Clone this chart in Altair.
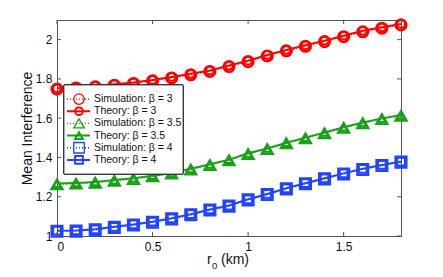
import altair as alt
import pandas as pd

r0 = [0.0, 0.1, 0.2, 0.3, 0.4, 0.5, 0.6, 0.7, 0.8, 0.9, 1.0, 1.1, 1.2, 1.3, 1.4, 1.5, 1.6, 1.7, 1.8]

theory_b3 = [1.752, 1.758, 1.765, 1.773, 1.782, 1.795, 1.810, 1.826, 1.843, 1.868, 1.893, 1.922, 1.948, 1.971, 1.995, 2.020, 2.045, 2.063, 2.080]
sim_b3 = [1.748, 1.754, 1.760, 1.768, 1.777, 1.790, 1.805, 1.821, 1.838, 1.863, 1.888, 1.917, 1.943, 1.966, 1.990, 2.015, 2.040, 2.058, 2.075]

theory_b35 = [1.267, 1.270, 1.275, 1.285, 1.294, 1.307, 1.321, 1.342, 1.365, 1.389, 1.421, 1.446, 1.475, 1.501, 1.527, 1.554, 1.578, 1.599, 1.616]
sim_b35 = [1.263, 1.266, 1.271, 1.281, 1.290, 1.303, 1.317, 1.338, 1.361, 1.385, 1.417, 1.442, 1.471, 1.497, 1.523, 1.550, 1.574, 1.595, 1.612]

theory_b4 = [1.027, 1.028, 1.034, 1.047, 1.059, 1.073, 1.090, 1.111, 1.135, 1.155, 1.187, 1.214, 1.243, 1.269, 1.294, 1.319, 1.342, 1.362, 1.379]
sim_b4 = [1.024, 1.025, 1.031, 1.044, 1.056, 1.070, 1.087, 1.108, 1.132, 1.152, 1.184, 1.211, 1.240, 1.266, 1.291, 1.316, 1.339, 1.359, 1.376]

betas = ["3", "3.5", "4"]
kinds = ["Simulation", "Theory"]
colors = ["#ff0000", "#1aa01a", "#2244ff"]
shapes = ["circle", "triangle-up", "square"]
legend_labels = ["Simulation: β = 3", "Theory: β = 3", "Simulation: β = 3.5",
                 "Theory: β = 3.5", "Simulation: β = 4", "Theory: β = 4"]

x_ticks = [0, 0.5, 1, 1.5]
y_ticks = [1, 1.2, 1.4, 1.6, 1.8, 2]
x_title_parts = ["r", "0", "(km)"]

series = {
    ("3", "Theory"): theory_b3, ("3", "Simulation"): sim_b3,
    ("3.5", "Theory"): theory_b35, ("3.5", "Simulation"): sim_b35,
    ("4", "Theory"): theory_b4, ("4", "Simulation"): sim_b4,
}
rows = []
for (b, k), vals in series.items():
    for xv, yv in zip(r0, vals):
        rows.append({"beta": b, "kind": k, "r0": xv, "val": yv})
df = pd.DataFrame(rows)

leg_rows = []
for b in betas:
    for k in kinds:
        leg_rows.append({"beta": b, "kind": k, "label": f"{k}: β = {b}"})
leg = pd.DataFrame(leg_rows)

W, H = 344, 216
FONT = "Liberation Sans"
INK = "#111111"

xscale = alt.Scale(domain=[0, 1.8], nice=False, zero=False)
yscale = alt.Scale(domain=[1, 2.1], nice=False, zero=False)
cscale = alt.Scale(domain=betas, range=colors)
sscale = alt.Scale(domain=betas, range=shapes)

xenc = alt.X("r0:Q", scale=xscale, axis=alt.Axis(
    title=None, values=x_ticks, ticks=False, tickSize=0, grid=False,
    labelPadding=5, format="~g"))
yenc = alt.Y("val:Q", scale=yscale, axis=alt.Axis(
    title="Mean Interference", values=y_ticks, ticks=False, tickSize=0, grid=False,
    labelPadding=5, titleX=-30, titleY=H / 2, titleBaseline="middle", format="~g"))

base = alt.Chart(df).encode(
    x=xenc, y=yenc,
    color=alt.Color("beta:N", scale=cscale, legend=None),
)

theory_line = base.transform_filter(alt.datum.kind == "Theory").mark_line(strokeWidth=2).encode(detail="beta:N")
sim_line = base.transform_filter(alt.datum.kind == "Simulation").mark_line(strokeWidth=1.3, strokeDash=[1, 2]).encode(detail="beta:N")
sim_pts = base.transform_filter(alt.datum.kind == "Simulation").mark_point(filled=False, strokeWidth=2.6, size=110, opacity=1).encode(
    shape=alt.Shape("beta:N", scale=sscale, legend=None))
th_pts = base.transform_filter(alt.datum.kind == "Theory").mark_point(filled=False, strokeWidth=2, size=60, opacity=1).encode(
    shape=alt.Shape("beta:N", scale=sscale, legend=None))

xt = pd.DataFrame({"t": x_ticks})
yt = pd.DataFrame({"t": y_ticks})
tick_color = "#555555"
xt_bottom = alt.Chart(xt).mark_rule(color=tick_color, strokeWidth=1).encode(
    x=alt.X("t:Q", scale=xscale), y=alt.value(H), y2=alt.value(H - 4))
xt_top = alt.Chart(xt).mark_rule(color=tick_color, strokeWidth=1).encode(
    x=alt.X("t:Q", scale=xscale), y=alt.value(0), y2=alt.value(4))
yt_left = alt.Chart(yt).mark_rule(color=tick_color, strokeWidth=1).encode(
    y=alt.Y("t:Q", scale=yscale), x=alt.value(0), x2=alt.value(4))
yt_right = alt.Chart(yt).mark_rule(color=tick_color, strokeWidth=1).encode(
    y=alt.Y("t:Q", scale=yscale), x=alt.value(W), x2=alt.value(W - 4))

# x-axis title with real subscript
tdf = pd.DataFrame({"part": x_title_parts})
t_r = alt.Chart(tdf).transform_filter(alt.datum.part == "r").mark_text(
    align="left", baseline="alphabetic", font=FONT, fontSize=14, color=INK).encode(
    x=alt.value(150), y=alt.value(H + 28), text="part:N")
t_0 = alt.Chart(tdf).transform_filter(alt.datum.part == "0").mark_text(
    align="left", baseline="alphabetic", font=FONT, fontSize=9.5, color=INK).encode(
    x=alt.value(155), y=alt.value(H + 32.5), text="part:N")
t_km = alt.Chart(tdf).transform_filter(alt.datum.part == "(km)").mark_text(
    align="left", baseline="alphabetic", font=FONT, fontSize=14, color=INK).encode(
    x=alt.value(164), y=alt.value(H + 28), text="part:N")

plot_group = alt.layer(xt_bottom, xt_top, yt_left, yt_right,
                       sim_line, theory_line, sim_pts, th_pts, t_r, t_0, t_km)

# legend
lyscale = alt.Scale(domain=legend_labels, range=[73, 146])
ly = alt.Y("label:N", scale=lyscale, axis=None, sort=legend_labels)
lbase = alt.Chart(leg).encode(
    y=ly,
    color=alt.Color("beta:N", scale=cscale, legend=None),
)
leg_box = alt.Chart(leg).mark_rect(fill="white", stroke="#333333", strokeWidth=0.8).encode(
    x=alt.value(7), x2=alt.value(126), y=alt.value(65), y2=alt.value(154))
leg_rule = lbase.mark_rule().encode(
    x=alt.value(10), x2=alt.value(33),
    strokeDash=alt.StrokeDash("kind:N", scale=alt.Scale(domain=kinds, range=[[1, 2], [1, 0]]), legend=None),
    strokeWidth=alt.StrokeWidth("kind:N", scale=alt.Scale(domain=kinds, range=[1.3, 2]), legend=None),
)
leg_pt = lbase.mark_point(filled=False, opacity=1).encode(
    x=alt.value(22),
    shape=alt.Shape("beta:N", scale=sscale, legend=None),
    size=alt.Size("kind:N", scale=alt.Scale(domain=kinds, range=[110, 60]), legend=None),
    strokeWidth=alt.StrokeWidth("kind:N", scale=alt.Scale(domain=kinds, range=[2.6, 2]), legend=None),
)
leg_txt = alt.Chart(leg).mark_text(align="left", baseline="middle", font=FONT, fontSize=10.5, color=INK).encode(
    x=alt.value(37), y=ly, text="label:N")
leg_group = alt.layer(leg_box, leg_rule, leg_pt, leg_txt)

chart = alt.layer(plot_group, leg_group).resolve_scale(y="independent").properties(
    width=W, height=H,
    background="white",
    autosize=alt.AutoSizeParams(type="none"),
    padding={"left": 49, "top": 12, "right": 34, "bottom": 33},
).configure_view(stroke=tick_color, strokeWidth=1).configure_axis(
    domainColor=tick_color, domainWidth=1,
    labelFont=FONT, labelFontSize=12, labelColor=INK,
    titleFont=FONT, titleFontSize=14, titleColor=INK, titleFontWeight="normal",
)

chart.save("out.html", embed_options={"renderer": "svg", "actions": False})
